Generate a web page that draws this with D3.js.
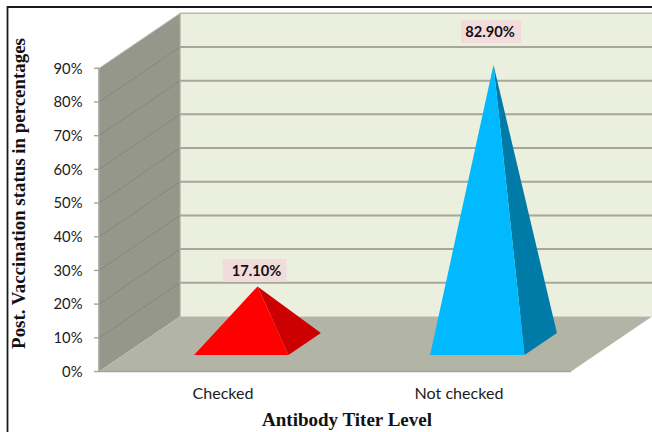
<!DOCTYPE html>
<html>
<head>
<meta charset="utf-8">
<script src="https://cdn.jsdelivr.net/npm/d3@7"></script>
<style>
html,body{margin:0;padding:0;background:#fff;}
svg{display:block;}
</style>
</head>
<body>
<svg id="chart" width="652" height="432"></svg>
<script>
const categories = ["Checked", "Not checked"];
const values = [17.1, 82.9];
const valueLabels = ["17.10%", "82.90%"];
const yTicks = [0, 10, 20, 30, 40, 50, 60, 70, 80, 90];
const frontColors = ["#ff0000", "#00b9ff"];
const sideColors = ["#cc0000", "#007ba8"];

const svg = d3.select("#chart");

// Oblique projection: depth runs from 0 (front edge) to 1 (back wall)
const depthX = 81, depthY = -55;
const y = d3.scaleLinear().domain([0, 90]).range([371.5, 68.3]);
const x = d3.scaleBand().domain(categories).range([99, 571]);
const pyramidWidth = x.bandwidth() * 0.4;
const pt = (px, v, d) => [px + d * depthX, y(v) + d * depthY];
const poly = pts => "M" + pts.map(p => p.join(",")).join("L") + "Z";

// Frame around the figure
svg.append("path").attr("d", "M7.5,432V7H652").attr("fill", "none")
  .attr("stroke", "#1a1a1a").attr("stroke-width", 1.8);

// Back wall, side wall and floor
const xL = x.range()[0], xR = x.range()[1];
svg.append("path").attr("d", poly([pt(xL, 0, 1), pt(xR, 0, 1), pt(xR, 90, 1), pt(xL, 90, 1)])).attr("fill", "#ebefdd");
svg.append("path").attr("d", poly([pt(xL, 0, 0), pt(xL, 0, 1), pt(xL, 90, 1), pt(xL, 90, 0)])).attr("fill", "#95978a");
svg.append("path").attr("d", poly([pt(xL, 0, 0), pt(xR, 0, 0), pt(xR, 0, 1), pt(xL, 0, 1)])).attr("fill", "#b2b4a5");

// Gridlines on the back wall and the side wall
const grid = svg.append("g");
yTicks.filter(t => t > 0).forEach(t => {
  const a = pt(xL, t, 0), b = pt(xL, t, 1), c = pt(xR, t, 1);
  grid.append("line").attr("x1", b[0]).attr("y1", b[1]).attr("x2", c[0]).attr("y2", c[1])
    .attr("stroke", t === 90 ? "#b9baae" : "#a6a798").attr("stroke-width", t === 90 ? 1.6 : 2);
  grid.append("line").attr("x1", a[0]).attr("y1", a[1]).attr("x2", b[0]).attr("y2", b[1])
    .attr("stroke", t === 90 ? "#c4c5bb" : "#85877c").attr("stroke-width", 1);
});
grid.append("line").attr("x1", pt(xL, 0, 1)[0]).attr("y1", pt(xL, 0, 1)[1]).attr("x2", pt(xL, 90, 1)[0]).attr("y2", pt(xL, 90, 1)[1])
  .attr("stroke", "#a8aa9c").attr("stroke-width", 1.2);

// Front edges of the floor and side wall
grid.append("path").attr("d", `M${pt(xL, 90, 0)}L${pt(xL, 0, 0)}L${pt(xR, 0, 0)}`)
  .attr("fill", "none").attr("stroke", "#a3a59a").attr("stroke-width", 1.6);

// Value axis ticks and labels
const tickG = svg.append("g").attr("font-family", "Lato, sans-serif").attr("font-size", 14.8).attr("fill", "#1c1c1c");
yTicks.forEach(t => {
  tickG.append("line").attr("x1", xL - 5).attr("x2", xL).attr("y1", y(t)).attr("y2", y(t))
    .attr("stroke", "#a3a59a").attr("stroke-width", 1.4);
  tickG.append("text").attr("x", 82.5).attr("y", y(t)).attr("dy", "0.36em").attr("text-anchor", "end").text(t + "%");
});

// Pyramids: the base sits between depth 0.3 and 0.7, the apex over its centre
categories.forEach((c, i) => {
  const cx = x(c) + x.bandwidth() / 2;
  const left = cx - pyramidWidth / 2, right = cx + pyramidWidth / 2;
  const fl = pt(left, 0, 0.3), fr = pt(right, 0, 0.3), br = pt(right, 0, 0.7);
  const apex = pt(cx, values[i], 0.5);
  svg.append("path").attr("d", poly([fr, br, apex])).attr("fill", sideColors[i]);
  svg.append("path").attr("d", poly([fl, fr, apex])).attr("fill", frontColors[i]);
});

// Value labels on pink boxes
const labelBoxes = [{cx: 254.5, cy: 270.5, w: 64}, {cx: 491, cy: 31.5, w: 60}];
categories.forEach((c, i) => {
  const b = labelBoxes[i];
  svg.append("rect").attr("x", b.cx - b.w / 2).attr("y", b.cy - 11.5).attr("width", b.w).attr("height", 23).attr("fill", "#f2dcdb");
  svg.append("text").attr("x", i === 0 ? b.cx + 2 : b.cx - 1).attr("y", b.cy).attr("dy", "0.36em").attr("text-anchor", "middle")
    .attr("font-family", "Lato, sans-serif").attr("font-weight", 700).attr("font-size", 14.7).attr("fill", "#111")
    .text(valueLabels[i]);
});

// Category labels
categories.forEach(c => {
  svg.append("text").attr("x", x(c) + x.bandwidth() / 2 + 6).attr("y", 393.5).attr("dy", "0.36em").attr("text-anchor", "middle")
    .attr("font-family", "Lato, sans-serif").attr("font-size", 16.1).attr("fill", "#1c1c1c").text(c);
});

// Axis titles
svg.append("text").attr("x", 347).attr("y", 426).attr("text-anchor", "middle")
  .attr("font-family", "'Liberation Serif', serif").attr("font-weight", 700).attr("font-size", 19).attr("fill", "#111")
  .text("Antibody Titer Level");
svg.append("text").attr("transform", "translate(25,193.5) rotate(-90)").attr("text-anchor", "middle")
  .attr("font-family", "'Liberation Serif', serif").attr("font-weight", 700).attr("font-size", 18.9).attr("fill", "#111")
  .text("Post. Vaccination status in percentages");
</script>
</body>
</html>
